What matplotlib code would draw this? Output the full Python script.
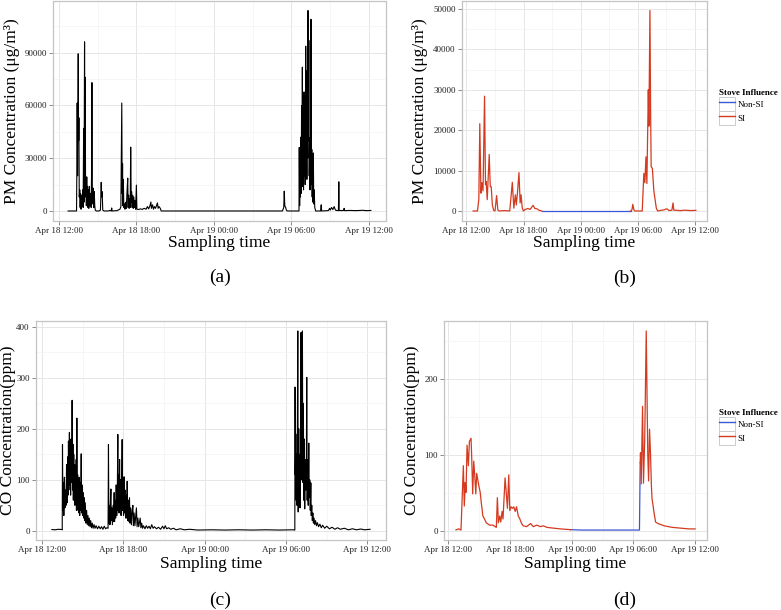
import numpy as np
import pandas as pd
import matplotlib
matplotlib.use('Agg')
import matplotlib.pyplot as plt
import matplotlib.dates as mdates
from matplotlib.ticker import FixedLocator, FuncFormatter, AutoMinorLocator
from matplotlib.lines import Line2D
from matplotlib.patches import Rectangle
from matplotlib.legend_handler import HandlerLine2D

plt.rcParams['font.family'] = ['Liberation Serif', 'DejaVu Serif']

W, H = 781, 610
START = pd.Timestamp('2015-04-18 12:00')

# hours after Apr 18 12:00
# (a) PM, raw series
pm_a_hours = [0.72, 1.0, 1.37, 1.40, 1.42, 1.45, 1.50, 1.53, 1.55, 1.58, 1.62, 1.65, 1.68, 1.72,
              1.76, 1.80, 1.85, 1.88, 1.92, 1.95, 1.99, 2.02, 2.04, 2.07, 2.10, 2.13, 2.16, 2.19,
              2.22, 2.25, 2.28, 2.32, 2.36, 2.40, 2.45, 2.50, 2.53, 2.56, 2.59, 2.62, 2.66, 2.70,
              2.74, 2.78, 2.82, 2.90, 3.10, 3.22, 3.28, 3.31, 3.35, 3.40, 3.50, 3.80, 3.95, 4.05,
              4.09, 4.12, 4.50, 4.73, 4.80, 4.87, 4.90, 4.93, 4.96, 4.99, 5.03, 5.08, 5.12, 5.17,
              5.22, 5.27, 5.33, 5.36, 5.40, 5.44, 5.48, 5.52, 5.56, 5.60, 5.63, 5.67, 5.72, 5.76,
              5.80, 5.85, 5.90, 5.94, 6.00, 6.04, 6.15, 6.30, 6.45, 6.60, 6.75, 6.85, 6.95, 7.05,
              7.12, 7.16, 7.25, 7.32, 7.40, 7.48, 7.55, 7.63, 7.68, 7.75, 7.85, 7.92, 12.0, 17.30,
              17.40, 17.44, 17.48, 17.55, 17.60, 17.67, 18.58, 18.60, 18.63, 18.66, 18.69, 18.72,
              18.75, 18.78, 18.81, 18.84, 18.87, 18.90, 18.93, 18.97, 19.00, 19.03, 19.06, 19.10,
              19.13, 19.16, 19.19, 19.22, 19.25, 19.28, 19.31, 19.34, 19.37, 19.40, 19.43, 19.46,
              19.49, 19.51, 19.54, 19.57, 19.60, 19.63, 19.66, 19.69, 19.72, 19.76, 19.80, 19.87,
              20.25, 20.30, 20.33, 20.85, 20.95, 21.00, 21.10, 21.20, 21.30, 21.40, 21.50, 21.63,
              21.66, 21.69, 21.90, 22.05, 22.07, 22.10, 22.50, 23.00, 23.50, 23.80, 24.14]
pm_a_vals = [0, 0, 0, 30000, 61400, 20000, 89400, 40000, 53000, 8000, 12000, 2000, 10000, 1000,
             9000, 3000, 12000, 2000, 47000, 5000, 96200, 30000, 76000, 8000, 18000, 3000, 19400, 5000,
             14000, 2000, 12000, 1500, 14000, 3000, 10000, 2000, 20000, 73000, 13000, 4000, 13000, 2000,
             11000, 3000, 500, 0, 0, 500, 16300, 8000, 11000, 500, 0, 0, 300, 0,
             1700, 0, 200, 1000, 2500, 61400, 10000, 27000, 3000, 18000, 2000, 4000, 1000, 5000,
             1500, 10000, 18700, 2000, 9000, 1500, 7000, 2000, 36300, 5000, 11000, 2000, 9000, 1500,
             8000, 2000, 6000, 1000, 14700, 1000, 800, 1200, 900, 1500, 1000, 2500, 1200, 3000,
             5100, 1500, 3500, 1000, 2500, 1500, 3000, 4600, 1500, 2500, 1500, 0, 0, 0,
             2000, 11300, 3000, 2000, 500, 0, 0, 36100, 3000, 30000, 8000, 42000,
             10000, 60000, 15000, 81800, 14000, 45000, 12000, 67700, 20000, 55000, 15000, 93700,
             25000, 70000, 18000, 80000, 30000, 114000, 40000, 97000, 20000, 41600, 12000, 36000,
             25000, 109000, 15000, 35000, 8000, 28000, 5000, 33000, 4000, 12000, 2000, 0,
             0, 3500, 0, 200, 1500, 500, 2000, 800, 2500, 500, 300, 200,
             16600, 300, 200, 400, 1500, 200, 300, 200, 400, 200, 300]

# (b) PM, averaged and classified
pm_si1_hours = [0.70, 1.16, 1.30, 1.40, 1.52, 1.62, 1.74, 1.90, 2.00, 2.07, 2.18, 2.39, 2.50, 2.60,
                2.72, 2.85, 3.00, 3.17, 3.30, 3.45, 4.00, 4.55, 4.82, 4.98, 5.14, 5.24, 5.35, 5.52,
                5.64, 5.74, 5.86, 5.98, 6.20, 6.45, 6.70, 7.00, 7.20, 7.45, 7.60, 7.92]
pm_si1_vals = [0, 0, 3000, 21600, 4400, 7000, 5000, 28400, 6500, 7300, 2800, 14000, 6000, 6000,
               1500, 200, 0, 3800, 200, 0, 100, 0, 7100, 700, 4000, 1500, 4200, 9500,
               2000, 4000, 800, 0, 400, 600, 400, 1400, 600, 500, 200, 0]
pm_non_hours = [7.92, 10.0, 12.0, 14.0, 16.0, 17.25]
pm_non_vals = [0, 0, 0, 0, 0, 0]
pm_si2_hours = [17.25, 17.40, 17.49, 17.60, 17.70, 18.48, 18.65, 18.76, 18.87, 18.97, 19.12, 19.18,
                19.29, 19.36, 19.42, 19.55, 19.70, 19.96, 20.10, 20.80, 21.00, 21.10, 21.30, 21.60,
                21.72, 21.80, 22.50, 23.00, 23.50, 24.12]
pm_si2_vals = [0, 300, 1650, 300, 0, 0, 9300, 7000, 13400, 6800, 30000, 21000,
               49600, 25000, 11000, 10500, 5000, 700, 0, 300, 500, 500, 100, 200,
               2000, 200, 100, 200, 100, 150]

# (c) CO, raw series
co_c_hours = [0.74, 1.00, 1.20, 1.47, 1.50, 1.52, 1.55, 1.58, 1.62, 1.66, 1.70, 1.74, 1.78, 1.82,
              1.86, 1.90, 1.93, 1.96, 1.99, 2.03, 2.06, 2.09, 2.12, 2.15, 2.18, 2.21, 2.23, 2.26,
              2.29, 2.32, 2.35, 2.38, 2.41, 2.44, 2.47, 2.50, 2.53, 2.55, 2.58, 2.61, 2.64, 2.67,
              2.70, 2.73, 2.76, 2.79, 2.82, 2.86, 2.90, 2.93, 2.96, 3.00, 3.04, 3.08, 3.12, 3.16,
              3.20, 3.25, 3.30, 3.35, 3.40, 3.45, 3.50, 3.55, 3.60, 3.66, 3.72, 3.78, 3.85, 3.92,
              4.00, 4.10, 4.20, 4.30, 4.40, 4.50, 4.60, 4.70, 4.79, 4.88, 4.91, 4.94, 4.98, 5.02,
              5.06, 5.09, 5.12, 5.16, 5.20, 5.25, 5.29, 5.33, 5.36, 5.40, 5.44, 5.48, 5.52, 5.56,
              5.60, 5.63, 5.66, 5.69, 5.73, 5.76, 5.80, 5.84, 5.88, 5.92, 5.95, 5.98, 6.02, 6.06,
              6.09, 6.13, 6.17, 6.21, 6.25, 6.29, 6.33, 6.37, 6.41, 6.46, 6.50, 6.55, 6.60, 6.66,
              6.71, 6.75, 6.80, 6.86, 6.92, 6.97, 7.02, 7.08, 7.14, 7.20, 7.25, 7.30, 7.36, 7.42,
              7.49, 7.60, 7.70, 7.80, 7.90, 8.00, 8.10, 8.20, 8.30, 8.45, 8.60, 8.75, 8.90, 9.00,
              9.10, 9.20, 9.35, 9.50, 9.70, 9.90, 10.2, 10.5, 10.9, 11.5, 12.5, 13.5, 14.5, 15.5,
              16.5, 17.5, 18.5, 18.65, 18.67, 18.69, 18.72, 18.75, 18.78, 18.81, 18.84, 18.87, 18.90,
              18.94, 18.97, 19.00, 19.03, 19.06, 19.09, 19.11, 19.14, 19.17, 19.21, 19.24, 19.28,
              19.31, 19.35, 19.38, 19.42, 19.46, 19.50, 19.53, 19.56, 19.60, 19.64, 19.68, 19.71,
              19.75, 19.79, 19.83, 19.86, 19.90, 19.94, 19.98, 20.02, 20.07, 20.12, 20.18, 20.25,
              20.32, 20.40, 20.50, 20.60, 20.70, 20.85, 21.00, 21.20, 21.40, 21.60, 21.80, 22.00,
              22.30, 22.60, 22.90, 23.20, 23.50, 23.80, 24.20]
co_c_vals = [2.5, 2, 3, 2.5, 2, 169, 40, 95, 30, 105, 45, 80, 50, 130,
             55, 145, 70, 176, 80, 193, 90, 160, 70, 180, 95, 140, 256, 80,
             170, 60, 150, 70, 130, 50, 120, 60, 140, 40, 221, 50, 110, 40,
             100, 35, 105, 30, 95, 40, 151, 35, 90, 30, 75, 25, 65, 20,
             55, 15, 40, 12, 30, 10, 25, 8, 20, 6, 15, 5, 12, 5,
             10, 4, 9, 4, 8, 3, 9, 4, 6, 5, 169, 15, 50, 12,
             60, 82, 20, 45, 12, 50, 18, 75, 18, 60, 25, 90, 30, 67,
             189, 40, 110, 35, 140, 45, 100, 30, 90, 179, 40, 90, 30, 106,
             35, 80, 25, 70, 25, 97, 20, 60, 18, 65, 15, 45, 12, 40,
             50, 10, 35, 10, 30, 45, 8, 25, 8, 18, 25, 6, 15, 5,
             10, 4, 10, 5, 9, 4, 12, 5, 8, 4, 7, 3, 9, 4,
             10, 4, 6, 3, 5, 2, 4, 2, 3, 1.5, 2, 1.5, 2, 1.5,
             2, 1.5, 2, 1.5, 282, 110, 190, 60, 150, 50, 200, 392, 37,
             200, 60, 150, 45, 100, 200, 389, 100, 150, 392, 95, 250,
             60, 180, 43, 140, 80, 120, 301, 60, 140, 50, 172, 65,
             100, 40, 94, 30, 50, 20, 35, 15, 25, 12, 20, 10,
             16, 8, 13, 6, 11, 5, 9, 4, 7, 3, 6, 3,
             5, 2, 4, 2, 3.5, 2, 3]

# (d) CO, averaged and classified
co_si1_hours = [0.73, 1.00, 1.22, 1.45, 1.54, 1.64, 1.71, 1.81, 1.94, 2.04, 2.20, 2.27, 2.36, 2.46,
                2.56, 2.66, 2.75, 2.85, 2.95, 3.09, 3.19, 3.35, 3.51, 3.68, 4.00, 4.33, 4.66, 4.76,
                4.86, 4.99, 5.09, 5.22, 5.31, 5.51, 5.65, 5.74, 5.87, 5.97, 6.10, 6.23, 6.36, 6.49,
                6.63, 6.79, 6.95, 7.12, 7.28, 7.61, 8.00, 8.26, 8.60, 8.92, 9.25, 9.58, 10.23, 10.89,
                11.40, 11.87]
co_si1_vals = [1.7, 3, 1.5, 86, 33, 64, 51, 113, 86, 118, 122, 94, 49, 92,
               73, 49, 76, 68, 60, 51, 38, 20, 16, 11, 8, 8, 5, 44,
               11, 20, 12, 26, 16, 70, 46, 30, 74, 27, 32, 30, 32, 26,
               32, 20, 16, 10, 7, 6, 10, 6, 8, 6, 7, 5, 4, 3,
               2.5, 2]
co_non_hours = [11.87, 13.0, 15.0, 17.0, 18.59, 18.66]
co_non_vals = [2, 1.5, 1.5, 1.5, 1.5, 90]
co_si2_hours = [18.66, 18.69, 18.76, 18.89, 18.98, 19.10, 19.15, 19.25, 19.40, 19.48, 19.57, 19.67,
                19.75, 19.81, 19.91, 20.00, 20.16, 20.40, 21.00, 21.80, 22.60, 23.40, 24.00]
co_si2_vals = [90, 103, 62, 164, 63, 120, 166, 263, 100, 66, 134, 100,
               60, 43, 34, 25, 12, 10, 7, 5, 4, 3, 3]

pm_a_ticks = [0, 30000, 60000, 90000]
pm_b_ticks = [0, 10000, 20000, 30000, 40000, 50000]
co_c_ticks = [0, 100, 200, 300, 400]
co_d_ticks = [0, 100, 200]
class_labels = ['Non-SI', 'SI']
class_colors = ['#3C57D6', '#D43A1F']

PM_LABEL = 'PM Concentration (\u03bcg/m\u00b3)'
CO_LABEL = 'CO Concentration(ppm)'


def to_time(hours):
    return (START + pd.to_timedelta(np.asarray(hours, dtype=float), unit='h')).to_numpy()


def px_rect(l, t, r, b):
    return [l / W, 1 - b / H, (r - l) / W, (b - t) / H]


def style_axes(ax, all_hours, all_vals, yticks):
    '''ggplot theme_bw look, 5% expansion on both axes'''
    h0, h1 = min(all_hours), max(all_hours)
    dh = (h1 - h0) * 0.05
    ax.set_xlim(to_time([h0 - dh, h1 + dh]))
    v0, v1 = min(all_vals), max(all_vals)
    dv = (v1 - v0) * 0.05
    ax.set_ylim(v0 - dv, v1 + dv)
    ax.xaxis.set_major_locator(mdates.HourLocator(byhour=[0, 6, 12, 18]))
    ax.xaxis.set_minor_locator(mdates.HourLocator(byhour=[3, 9, 15, 21]))
    ax.xaxis.set_major_formatter(mdates.DateFormatter('%b %d %H:%M'))
    ax.yaxis.set_major_locator(FixedLocator(yticks))
    ax.yaxis.set_minor_locator(AutoMinorLocator(2))
    ax.yaxis.set_major_formatter(FuncFormatter(lambda v, p: '%d' % v))
    ax.grid(which='major', color='#e6e6e6', lw=0.7)
    ax.grid(which='minor', color='#f3f3f3', lw=0.5)
    ax.set_axisbelow(True)
    for s in ax.spines.values():
        s.set_color('#c4c4c4')
        s.set_linewidth(0.9)
    ax.tick_params(which='major', length=3, width=0.6, color='#777777', pad=1.5,
                   labelsize=6.5, labelcolor='#222222')
    ax.tick_params(which='minor', length=0)


class BoxedLine(HandlerLine2D):
    '''legend key with a light grey box round the line, like ggplot'''
    def create_artists(self, legend, orig_handle, xdescent, ydescent, width, height, fontsize, trans):
        arts = super().create_artists(legend, orig_handle, xdescent, ydescent, width, height, fontsize, trans)
        box = Rectangle((-xdescent, -ydescent), width, height, transform=trans,
                        facecolor='white', edgecolor='#cccccc', lw=0.7)
        return [box] + arts


def add_legend(ax, left_px, top_px):
    handles = [Line2D([], [], color=c, lw=1.0) for c in class_colors]
    leg = ax.legend(handles, class_labels, title='Stove Influence', loc='upper left',
                    bbox_to_anchor=(left_px / W, 1 - top_px / H), bbox_transform=ax.figure.transFigure,
                    frameon=False, fontsize=6.5, title_fontproperties={'weight': 'bold', 'size': 6.5},
                    handlelength=1.8, handleheight=2.05, labelspacing=0, handletextpad=0.25,
                    borderpad=0, borderaxespad=0, alignment='left',
                    handler_map={Line2D: BoxedLine()})
    return leg


fig = plt.figure(figsize=(W / 100, H / 100), dpi=100)

ax_a = fig.add_axes(px_rect(53, 0.5, 386, 221))
ax_b = fig.add_axes(px_rect(462, 0.5, 707, 221))
ax_c = fig.add_axes(px_rect(36, 321, 386, 540))
ax_d = fig.add_axes(px_rect(444, 321, 707, 540))

# (a)
ax_a.plot(to_time(pm_a_hours), pm_a_vals, color='black', lw=0.8)
style_axes(ax_a, pm_a_hours, pm_a_vals, pm_a_ticks)

# (b)
ax_b.plot(to_time(pm_non_hours), pm_non_vals, color=class_colors[0], lw=0.9)
ax_b.plot(to_time(pm_si1_hours), pm_si1_vals, color=class_colors[1], lw=0.9)
ax_b.plot(to_time(pm_si2_hours), pm_si2_vals, color=class_colors[1], lw=0.9)
style_axes(ax_b, pm_si1_hours + pm_si2_hours, pm_si1_vals + pm_si2_vals, pm_b_ticks)
add_legend(ax_b, 719, 89)

# (c)
ax_c.plot(to_time(co_c_hours), co_c_vals, color='black', lw=0.8)
style_axes(ax_c, co_c_hours, co_c_vals, co_c_ticks)

# (d)
ax_d.plot(to_time(co_non_hours), co_non_vals, color=class_colors[0], lw=0.9)
ax_d.plot(to_time(co_si1_hours), co_si1_vals, color=class_colors[1], lw=0.9)
ax_d.plot(to_time(co_si2_hours), co_si2_vals, color=class_colors[1], lw=0.9)
style_axes(ax_d, co_si1_hours + co_si2_hours, co_si1_vals + co_si2_vals, co_d_ticks)
add_legend(ax_d, 719, 409)

# axis titles
for ax, lab, (l, r), (t, b), ylab_x, xlab_y in [
        (ax_a, PM_LABEL, (53, 386), (0.5, 221), 12, 243),
        (ax_b, PM_LABEL, (462, 707), (0.5, 221), 420, 243),
        (ax_c, CO_LABEL, (36, 386), (321, 540), 8, 563.5),
        (ax_d, CO_LABEL, (444, 707), (321, 540), 412, 564)]:
    ax.set_ylabel(lab, fontsize=12.5, va='center')
    ax.yaxis.set_label_coords((ylab_x - l) / (r - l), 0.5)
    ax.set_xlabel('Sampling time', fontsize=12.5, va='center')
    ax.xaxis.set_label_coords(0.5, (b - xlab_y) / (b - t))

# panel letters
for s, x, y in [('(a)', 220, 277.5), ('(b)', 625, 278), ('(c)', 220, 600), ('(d)', 625, 600.5)]:
    fig.text(x / W, 1 - y / H, s, fontsize=14, ha='center', va='center')

fig.savefig('out.png', dpi=100)
